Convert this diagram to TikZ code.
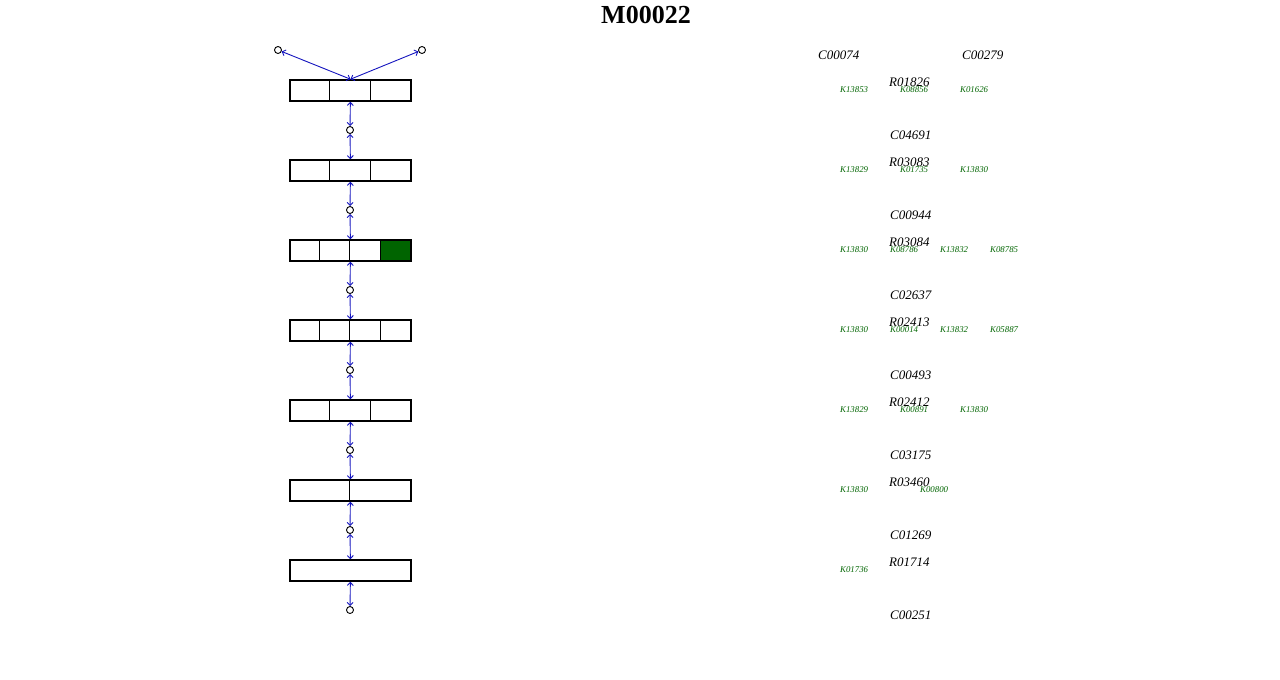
\documentclass[tikz,border=0pt]{standalone}
\usepackage{fontspec}
\setmainfont{Liberation Serif}
\usetikzlibrary{arrows.meta,calc,backgrounds}
\definecolor{kgreen}{RGB}{0,100,0}
\definecolor{kblue}{RGB}{20,20,190}
\tikzset{
  cpd/.style = {circle, draw=black, line width=0.9pt, inner sep=0pt, minimum size=7pt},
  rxn/.style = {rectangle, draw=black, line width=1.6pt, inner sep=0pt, minimum width=121pt, minimum height=21pt},
  link/.style = {draw=kblue, line width=0.9pt, {Straight Barb[length=3pt,width=6pt]}-{Straight Barb[length=3pt,width=6pt]}},
  cname/.style = {anchor=west, inner sep=0pt, font=\fontsize{13}{13}\selectfont\itshape},
  kname/.style = {anchor=west, inner sep=0pt, text=kgreen, font=\fontsize{8.8}{9}\selectfont\itshape},
}

\begin{document}
\begin{tikzpicture}[x=1pt,y=-1pt]
\useasboundingbox (0,0) rectangle (1280,680);
\node[font=\fontsize{26}{28}\selectfont\bfseries] (title) at (646,15) {M00022};

% compounds and reactions
\node [cpd] (C00074) at (278,50) {};
\node [cpd] (C00279) at (422,50) {};
\node [rxn] (R01826) at (350.5,90.5) {};
\node [cpd] (C04691) at (350,130) {};
\node [rxn] (R03083) at (350.5,170.5) {};
\node [cpd] (C00944) at (350,210) {};
\node [rxn] (R03084) at (350.5,250.5) {};
\node [cpd] (C02637) at (350,290) {};
\node [rxn] (R02413) at (350.5,330.5) {};
\node [cpd] (C00493) at (350,370) {};
\node [rxn] (R02412) at (350.5,410.5) {};
\node [cpd] (C03175) at (350,450) {};
\node [rxn] (R03460) at (350.5,490.5) {};
\node [cpd] (C01269) at (350,530) {};
\node [rxn] (R01714) at (350.5,570.5) {};
\node [cpd] (C00251) at (350,610) {};

\begin{scope}[on background layer]
\fill [kgreen] ($(R03084.north east)+(-31,0)$) rectangle (R03084.south east);
\end{scope}

\foreach \r/\n in {R01826/3,R03083/3,R03084/4,R02413/4,R02412/3,R03460/2} {
  \pgfmathtruncatemacro\m{\n-1}
  \foreach \i in {1,...,\m}
    \draw [black, line width=0.6pt] ($(\r.north west)+(\i*121/\n,0)$) -- ($(\r.south west)+(\i*121/\n,0)$);
}

\draw [link] (C00074) -- (R01826.north);
\draw [link] (C00279) -- (R01826.north);
\draw [link] (R01826) -- (C04691);
\draw [link] (C04691) -- (R03083);
\draw [link] (R03083) -- (C00944);
\draw [link] (C00944) -- (R03084);
\draw [link] (R03084) -- (C02637);
\draw [link] (C02637) -- (R02413);
\draw [link] (R02413) -- (C00493);
\draw [link] (C00493) -- (R02412);
\draw [link] (R02412) -- (C03175);
\draw [link] (C03175) -- (R03460);
\draw [link] (R03460) -- (C01269);
\draw [link] (C01269) -- (R01714);
\draw [link] (R01714) -- (C00251);

% names
\node [cname] (tC00074) at (818,55) {C00074};
\node [cname] (tC00279) at (962,55) {C00279};
\node [cname] (tR01826) at (889,82) {R01826};
\node [kname] (R01826k1) at (840,89.5) {K13853};
\node [kname] (R01826k2) at (900,89.5) {K08856};
\node [kname] (R01826k3) at (960,89.5) {K01626};

\node [cname] (tC04691) at (890,135) {C04691};
\node [cname] (tR03083) at (889,162) {R03083};
\node [kname] (R03083k1) at (840,169.5) {K13829};
\node [kname] (R03083k2) at (900,169.5) {K01735};
\node [kname] (R03083k3) at (960,169.5) {K13830};

\node [cname] (tC00944) at (890,215) {C00944};
\node [cname] (tR03084) at (889,242) {R03084};
\node [kname] (R03084k1) at (840,249.5) {K13830};
\node [kname] (R03084k2) at (890,249.5) {K08786};
\node [kname] (R03084k3) at (940,249.5) {K13832};
\node [kname] (R03084k4) at (990,249.5) {K08785};

\node [cname] (tC02637) at (890,295) {C02637};
\node [cname] (tR02413) at (889,322) {R02413};
\node [kname] (R02413k1) at (840,329.5) {K13830};
\node [kname] (R02413k2) at (890,329.5) {K00014};
\node [kname] (R02413k3) at (940,329.5) {K13832};
\node [kname] (R02413k4) at (990,329.5) {K05887};

\node [cname] (tC00493) at (890,375) {C00493};
\node [cname] (tR02412) at (889,402) {R02412};
\node [kname] (R02412k1) at (840,409.5) {K13829};
\node [kname] (R02412k2) at (900,409.5) {K00891};
\node [kname] (R02412k3) at (960,409.5) {K13830};

\node [cname] (tC03175) at (890,455) {C03175};
\node [cname] (tR03460) at (889,482) {R03460};
\node [kname] (R03460k1) at (840,489.5) {K13830};
\node [kname] (R03460k2) at (920,489.5) {K00800};

\node [cname] (tC01269) at (890,535) {C01269};
\node [cname] (tR01714) at (889,562) {R01714};
\node [kname] (R01714k1) at (840,569.5) {K01736};

\node [cname] (tC00251) at (890,615) {C00251};
\end{tikzpicture}
\end{document}
